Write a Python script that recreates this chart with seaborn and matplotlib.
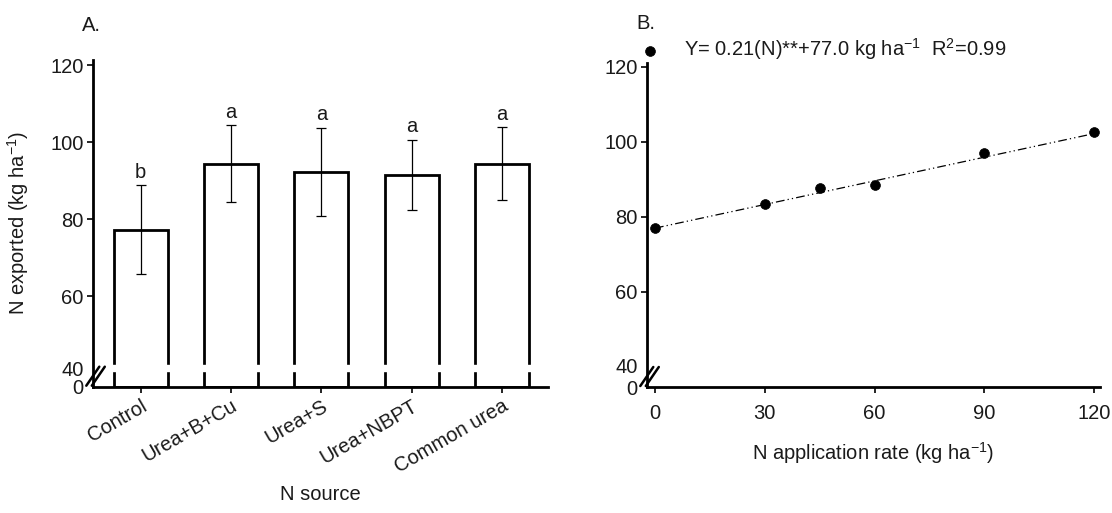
import numpy as np
import pandas as pd
import matplotlib
matplotlib.use("Agg")
import matplotlib.pyplot as plt
import matplotlib.transforms as mtrans
import seaborn as sns

# ---------------- data ----------------
sources = ["Control", "Urea+B+Cu", "Urea+S", "Urea+NBPT", "Common urea"]
n_exported = [77.2, 94.4, 92.2, 91.5, 94.4]
n_err = [11.6, 10.0, 11.5, 9.1, 9.4]
letters = ["b", "a", "a", "a", "a"]

rates = [0, 30, 45, 60, 90, 120]
n_exp_rate = [77.0, 83.4, 87.6, 88.5, 96.9, 102.5]
slope = 0.21
intercept = 77.0

y_ticks = [0, 40, 60, 80, 100, 120]
x_ticks_b = [0, 30, 60, 90, 120]

# ---------------- style ----------------
FS = 14.5
sns.set_theme(style="ticks")
plt.rcParams["font.family"] = ["Liberation Sans", "DejaVu Sans"]
plt.rcParams["font.size"] = FS
TXT = "#1a1a1a"
plt.rcParams["text.color"] = TXT
plt.rcParams["axes.labelcolor"] = TXT
plt.rcParams["xtick.color"] = "black"
plt.rcParams["ytick.color"] = "black"
plt.rcParams["xtick.labelcolor"] = TXT
plt.rcParams["ytick.labelcolor"] = TXT
plt.rcParams["mathtext.default"] = "regular"


def make_scale(k):
    def fwd(y):
        y = np.asarray(y, dtype=float)
        return np.where(y >= 40, y, 40 - (40 - y) * k)

    def inv(t):
        t = np.asarray(t, dtype=float)
        return np.where(t >= 40, t, 40 - (40 - t) / k)

    return fwd, inv


fig = plt.figure(figsize=(11.12, 5.13), dpi=100)
axA = fig.add_axes([0.0839, 0.2462, 0.4089, 0.6368])
axB = fig.add_axes([0.5821, 0.2456, 0.4071, 0.6316])

# ---------------- panel A ----------------
dfA = pd.DataFrame({"source": sources, "value": n_exported})
sns.barplot(data=dfA, x="source", y="value", color="white", saturation=1,
            edgecolor="black", linewidth=2.0, width=0.6, errorbar=None, ax=axA,
            zorder=2)
pos = np.arange(len(sources))
axA.errorbar(pos, n_exported, yerr=n_err, fmt="none", ecolor="black",
             elinewidth=0.9, capsize=3.5, capthick=0.9, zorder=3)
for i, (v, e, l) in enumerate(zip(n_exported, n_err, letters)):
    axA.annotate(l, (i, v + e), xytext=(0, 2.5), textcoords="offset points",
                 ha="center", va="bottom", fontsize=FS, color=TXT)

fA, iA = make_scale(0.089)
axA.set_yscale("function", functions=(fA, iA))
axA.set_ylim(0, 121.3)
axA.set_xlim(-0.525, 4.51)
axA.set_yticks(y_ticks)
axA.set_yticklabels([str(t) for t in y_ticks])
axA.set_xticks(pos)
axA.set_xticklabels(sources, rotation=30, ha="right", va="top",
                    rotation_mode="anchor")
axA.set_ylabel("N exported (kg ha$^{-1}$)", fontsize=FS)
axA.yaxis.set_label_coords(-0.137, 0.5)
axA.set_xlabel("N source", fontsize=FS)
axA.xaxis.set_label_coords(0.5, -0.30)
# gap in bars at the axis break
axA.axhspan(40.4, 42.0, color="white", zorder=2.5)

# ---------------- panel B ----------------
dfB = pd.DataFrame({"rate": rates, "value": n_exp_rate})
xl = np.array([rates[0], rates[-1]])
axB.plot(xl, slope * xl + intercept, color="black", lw=0.9,
         linestyle=(0, (7, 2.5, 1, 2.5, 1, 2.5)), zorder=2)
sns.scatterplot(data=dfB, x="rate", y="value", color="black", s=50,
                edgecolor="black", linewidth=0.5, zorder=3, ax=axB,
                label="Y= 0.21(N)**+77.0 kg ha$^{-1}$  R$^{2}$=0.99")
fB, iB = make_scale(0.133)
axB.set_yscale("function", functions=(fB, iB))
axB.set_ylim(0, 121.0)
axB.set_xlim(-2.1, 121.6)
axB.set_yticks(y_ticks)
axB.set_yticklabels([str(t) for t in y_ticks])
axB.set_xticks(x_ticks_b)
axB.set_xlabel("N application rate (kg ha$^{-1}$)", fontsize=FS)
axB.xaxis.set_label_coords(0.5, -0.165)
axB.set_ylabel("")
leg = axB.legend(loc="center left", bbox_to_anchor=(-0.016, 1.042),
                 frameon=False, handlelength=1.0, handletextpad=1.2,
                 borderpad=0, borderaxespad=0, fontsize=FS)

# ---------------- common styling ----------------
for ax, lab, ly, up in ((axA, "A.", 1.107, 4), (axB, "B.", 1.123, 2)):
    for s in ("top", "right"):
        ax.spines[s].set_visible(False)
    for s in ("left", "bottom"):
        ax.spines[s].set_linewidth(2.0)
        ax.spines[s].set_color("black")
    ax.tick_params(axis="both", which="major", length=4, width=1.2,
                   direction="out", labelsize=FS, pad=3)
    # hide the tick marks at the broken part of the axis
    yt = ax.yaxis.get_major_ticks()
    for t in yt[:2]:
        t.tick1line.set_visible(False)
    # nudge the "40" label up a little, as in the original
    lbl40 = yt[1].label1
    lbl40.set_transform(lbl40.get_transform() + mtrans.ScaledTranslation(
        0, up / 100, fig.dpi_scale_trans))
    ax.text(-0.025, ly, lab, transform=ax.transAxes, fontsize=FS,
            ha="left", va="center", color=TXT)
    # axis break marks ("//") at the bottom of the y axis
    origin = ax.transAxes.transform((0, 0)) / fig.dpi
    base = fig.dpi_scale_trans + mtrans.ScaledTranslation(
        origin[0], origin[1], fig.dpi_scale_trans)
    for dx in (0, 5.5):
        off = mtrans.ScaledTranslation(dx / 100, 0, fig.dpi_scale_trans)
        ax.plot([-7 / 100, 6 / 100], [1 / 100, 20 / 100],
                transform=base + off, color="black", lw=1.8,
                clip_on=False, zorder=5)
    ax.grid(False)

axB.tick_params(axis="x", pad=8)

fig.savefig("out.png", dpi=100)
